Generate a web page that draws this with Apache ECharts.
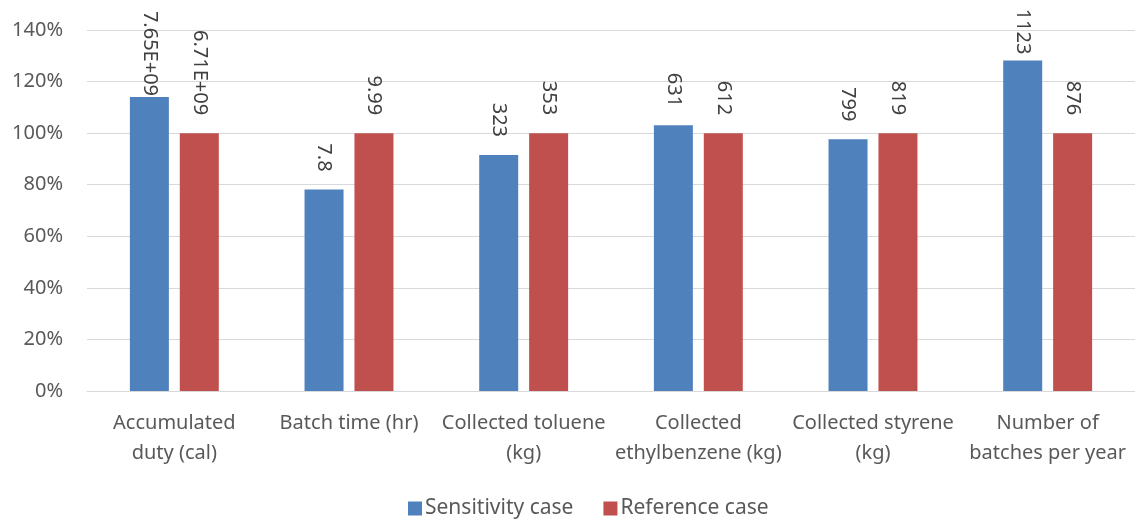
<!DOCTYPE html>
<html><head><meta charset="utf-8">
<script src="https://cdn.jsdelivr.net/npm/echarts@6/dist/echarts.min.js"></script>
<style>html,body{margin:0;padding:0;background:#fff}#c{width:1135px;height:520px}</style>
</head><body><div id="c"></div>
<script>
const categories = ["Accumulated\nduty (cal)", "Batch time (hr)", "Collected toluene\n(kg)", "Collected\nethylbenzene (kg)", "Collected styrene\n(kg)", "Number of\nbatches per year"];
const sensitivityPct = [114.0, 78.1, 91.5, 103.1, 97.6, 128.2];
const referencePct = [100, 100, 100, 100, 100, 100];
const sensitivityLabels = ["7.65E+09", "7.8", "323", "631", "799", "1123"];
const referenceLabels = ["6.71E+09", "9.99", "353", "612", "819", "876"];
const yTicks = [0, 20, 40, 60, 80, 100, 120, 140];

const font = "Noto Sans";
// labels that Excel pushed down because they hit the chart top
const labelDistanceOverride = {s0: 1, s5: 6};
const chart = echarts.init(document.getElementById('c'));
const lbl = (arr) => ({
  show: true, position: 'top', rotate: -90, align: 'right', verticalAlign: 'middle',
  distance: 18, fontFamily: font, fontSize: 20, color: '#404040',
  formatter: p => arr[p.dataIndex]
});
const mkData = (vals, key) => vals.map((v, i) => {
  const d = labelDistanceOverride[key + i];
  return d === undefined ? v : {value: v, label: {distance: d}};
});
chart.setOption({
  animation: false,
  grid: {left: 87, right: -4, top: 30, bottom: 129},
  legend: {
    top: 493, left: 403, itemWidth: 14, itemHeight: 14, itemGap: 30, icon: 'rect',
    textStyle: {fontFamily: font, fontSize: 21, color: '#595959', padding: [0, 0, 0, -2]},
    data: ['Sensitivity case', 'Reference case']
  },
  xAxis: {
    type: 'category', data: categories,
    axisLine: {lineStyle: {color: '#d9d9d9', width: 1}}, axisTick: {show: false},
    axisLabel: {fontFamily: font, fontSize: 20, color: '#595959', lineHeight: 30, margin: 17, interval: 0}
  },
  yAxis: {
    type: 'value', min: 0, max: 140, interval: 20,
    axisLine: {show: false}, axisTick: {show: false},
    splitLine: {lineStyle: {color: '#d9d9d9', width: 1}},
    axisLabel: {fontFamily: font, fontSize: 20, color: '#595959', margin: 24,
      formatter: v => yTicks.includes(v) ? v + '%' : ''}
  },
  series: [
    {name: 'Sensitivity case', type: 'bar', data: mkData(sensitivityPct, 's'), barWidth: 39, barGap: '28%',
     itemStyle: {color: '#4F81BD'}, label: lbl(sensitivityLabels)},
    {name: 'Reference case', type: 'bar', data: mkData(referencePct, 'r'), barWidth: 39,
     itemStyle: {color: '#C0504D'}, label: lbl(referenceLabels)}
  ]
});
</script></body></html>
